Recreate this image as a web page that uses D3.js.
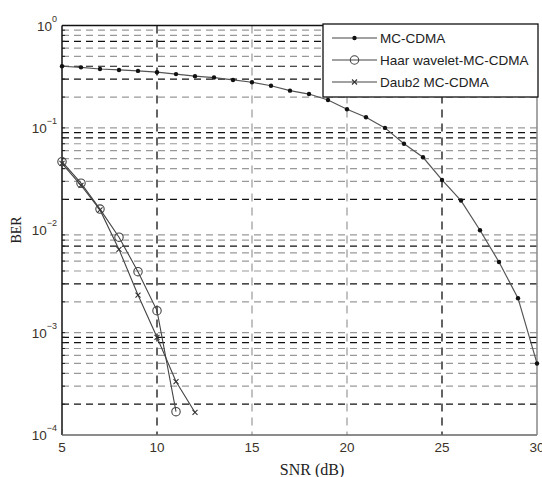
<!DOCTYPE html>
<html>
<head>
<meta charset="utf-8">
<script src="https://cdn.jsdelivr.net/npm/d3@7"></script>
<style>
  body { margin: 0; background: #fff; }
  text { font-family: "Liberation Sans", Arial, sans-serif; }
</style>
</head>
<body>
<div id="vis"></div>
<script>
// SNR (dB) values and BER for each curve
var snrMC   = [5,6,7,8,9,10,11,12,13,14,15,16,17,18,19,20,21,22,23,24,25,26,27,28,29,30];
var berMC   = [0.40,0.39,0.376,0.368,0.36,0.35,0.335,0.32,0.31,0.294,0.279,0.258,0.231,0.214,0.187,
               0.152,0.127,0.10,0.07,0.0516,0.031,0.0195,0.0100,0.0049,0.00217,0.0005];
var snrHaar = [5,6,7,8,9,10,11];
var berHaar = [0.0468,0.0288,0.0161,0.00855,0.00394,0.00164,0.000169];
var snrDaub = [5,6,7,8,9,10,11,12];
var berDaub = [0.045,0.0275,0.0158,0.0065,0.00233,0.0009,0.000333,0.000166];

var seriesNames = ["MC-CDMA", "Haar wavelet-MC-CDMA", "Daub2 MC-CDMA"];
var xTicks = [5,10,15,20,25,30];
var yTickExp = [0,-1,-2,-3,-4];

// the scanned figure has two overlapping grids: light and dark dashed lines
var gridGray  = [0.9,0.8,0.6,0.5,0.2,0.1,0.07,0.06,0.05,0.04,0.03,0.009,0.008,0.006,0.005,0.004,0.002,
                 0.001,0.0007,0.0006,0.0005,0.0004,0.0003];
var gridBlack = [0.7,0.4,0.3,0.09,0.08,0.02,0.007,0.003,0.0009,0.0008,0.0002];
var gridXGray  = [15,20];
var gridXBlack = [10,25];

var W = 542, H = 477;
var L = 62, R = 537, T = 25.5, B = 435;

var svg = d3.select("#vis").append("svg")
  .attr("width", W)
  .attr("height", H);

var x = d3.scaleLinear().domain([5,30]).range([L,R]);
var y = d3.scaleLog().domain([1e-4,1]).range([B,T]);

// horizontal grid
svg.append("g").selectAll("line")
  .data(gridGray)
 .enter().append("line")
  .attr("x1", L).attr("x2", R)
  .attr("y1", function(d){ return y(d); })
  .attr("y2", function(d){ return y(d); })
  .attr("stroke", "#999")
  .attr("stroke-width", 1.2)
  .attr("stroke-dasharray", "7,5");

svg.append("g").selectAll("line")
  .data(gridBlack)
 .enter().append("line")
  .attr("x1", L).attr("x2", R)
  .attr("y1", function(d){ return y(d); })
  .attr("y2", function(d){ return y(d); })
  .attr("stroke", "#111")
  .attr("stroke-width", 1.2)
  .attr("stroke-dasharray", "7,5");

// vertical grid
svg.append("g").selectAll("line")
  .data(gridXGray)
 .enter().append("line")
  .attr("x1", function(d){ return x(d); })
  .attr("x2", function(d){ return x(d); })
  .attr("y1", T).attr("y2", B)
  .attr("stroke", "#999")
  .attr("stroke-width", 1.2)
  .attr("stroke-dasharray", "8,6");

svg.append("g").selectAll("line")
  .data(gridXBlack)
 .enter().append("line")
  .attr("x1", function(d){ return x(d); })
  .attr("x2", function(d){ return x(d); })
  .attr("y1", T).attr("y2", B)
  .attr("stroke", "#111")
  .attr("stroke-width", 1.3)
  .attr("stroke-dasharray", "8,6");

// small ticks on the left axis
svg.append("g").selectAll("line")
  .data(gridGray.concat(gridBlack))
 .enter().append("line")
  .attr("x1", L).attr("x2", L+3)
  .attr("y1", function(d){ return y(d); })
  .attr("y2", function(d){ return y(d); })
  .attr("stroke", "#222");

// frame: left/top dark, bottom/right lighter
svg.append("line").attr("x1", L).attr("x2", L).attr("y1", T).attr("y2", B).attr("stroke", "#111").attr("stroke-width", 1.5);
svg.append("line").attr("x1", L).attr("x2", R).attr("y1", T).attr("y2", T).attr("stroke", "#111").attr("stroke-width", 1.5);
svg.append("line").attr("x1", L).attr("x2", R).attr("y1", B).attr("y2", B).attr("stroke", "#666").attr("stroke-width", 1.5);
svg.append("line").attr("x1", R).attr("x2", R).attr("y1", T).attr("y2", B).attr("stroke", "#888").attr("stroke-width", 1.5);

// x tick labels
svg.append("g").selectAll("text")
  .data(xTicks)
 .enter().append("text")
  .attr("x", function(d){ return x(d); })
  .attr("y", 452)
  .attr("text-anchor", "middle")
  .attr("font-size", 13.5)
  .attr("fill", "#3a3228")
  .text(function(d){ return d; });

// y tick labels 10^k
var yl = svg.append("g").selectAll("text")
  .data(yTickExp)
 .enter().append("text")
  .attr("x", 57)
  .attr("y", function(d){ return y(Math.pow(10,d)) + 5; })
  .attr("text-anchor", "end")
  .attr("font-size", 13.5)
  .attr("fill", "#3a3228");
yl.append("tspan").text("10");
yl.append("tspan")
  .attr("dy", -9)
  .attr("font-size", 9)
  .text(function(d){ return d === 0 ? "0" : "\u2212" + (-d); });

// axis titles
svg.append("text")
  .attr("x", 312).attr("y", 475)
  .attr("text-anchor", "middle")
  .attr("font-family", "Liberation Serif, Times New Roman, serif")
  .style("font-family", "'Liberation Serif', 'Times New Roman', serif")
  .attr("font-size", 16)
  .attr("fill", "#222")
  .text("SNR (dB)");

svg.append("text")
  .attr("transform", "translate(21,230) rotate(-90)")
  .attr("text-anchor", "middle")
  .style("font-family", "'Liberation Serif', 'Times New Roman', serif")
  .attr("font-size", 14)
  .attr("fill", "#222")
  .text("BER");

// curves
var line = d3.line()
  .x(function(d){ return x(d[0]); })
  .y(function(d){ return y(d[1]); });

var mc   = d3.zip(snrMC, berMC);
var haar = d3.zip(snrHaar, berHaar);
var daub = d3.zip(snrDaub, berDaub);

svg.append("path").datum(mc).attr("d", line)
  .attr("fill", "none").attr("stroke", "#555").attr("stroke-width", 1.2);
svg.append("path").datum(haar).attr("d", line)
  .attr("fill", "none").attr("stroke", "#444").attr("stroke-width", 1.1);
svg.append("path").datum(daub).attr("d", line)
  .attr("fill", "none").attr("stroke", "#444").attr("stroke-width", 1.1);

function drawDot(g, px, py){
  g.append("circle").attr("cx", px).attr("cy", py).attr("r", 2.2).attr("fill", "#111");
}
function drawCircle(g, px, py){
  g.append("circle").attr("cx", px).attr("cy", py).attr("r", 4.2)
    .attr("fill", "none").attr("stroke", "#444").attr("stroke-width", 1.1);
}
function drawCross(g, px, py){
  var s = 2.5;
  g.append("path")
    .attr("d", "M" + (px-s) + "," + (py-s) + "L" + (px+s) + "," + (py+s) +
               "M" + (px-s) + "," + (py+s) + "L" + (px+s) + "," + (py-s))
    .attr("stroke", "#333").attr("stroke-width", 1.1);
}

var gm = svg.append("g");
mc.forEach(function(d){ drawDot(gm, x(d[0]), y(d[1])); });
var gh = svg.append("g");
haar.forEach(function(d){ drawCircle(gh, x(d[0]), y(d[1])); });
var gd = svg.append("g");
daub.forEach(function(d){ drawCross(gd, x(d[0]), y(d[1])); });

// legend
var lg = svg.append("g");
lg.append("rect")
  .attr("x", 323).attr("y", 24)
  .attr("width", 215).attr("height", 73)
  .attr("fill", "#fff").attr("stroke", "#111").attr("stroke-width", 1.3);

var markers = [drawDot, drawCircle, drawCross];
seriesNames.forEach(function(name, i){
  var ry = 38 + i*22;
  lg.append("line").attr("x1", 332).attr("x2", 377).attr("y1", ry).attr("y2", ry)
    .attr("stroke", "#444").attr("stroke-width", 1.1);
  markers[i](lg, 354.5, ry);
  lg.append("text")
    .attr("x", 380).attr("y", ry + 5)
    .attr("font-size", 13.5)
    .attr("fill", "#222")
    .text(name);
});
</script>
</body>
</html>
